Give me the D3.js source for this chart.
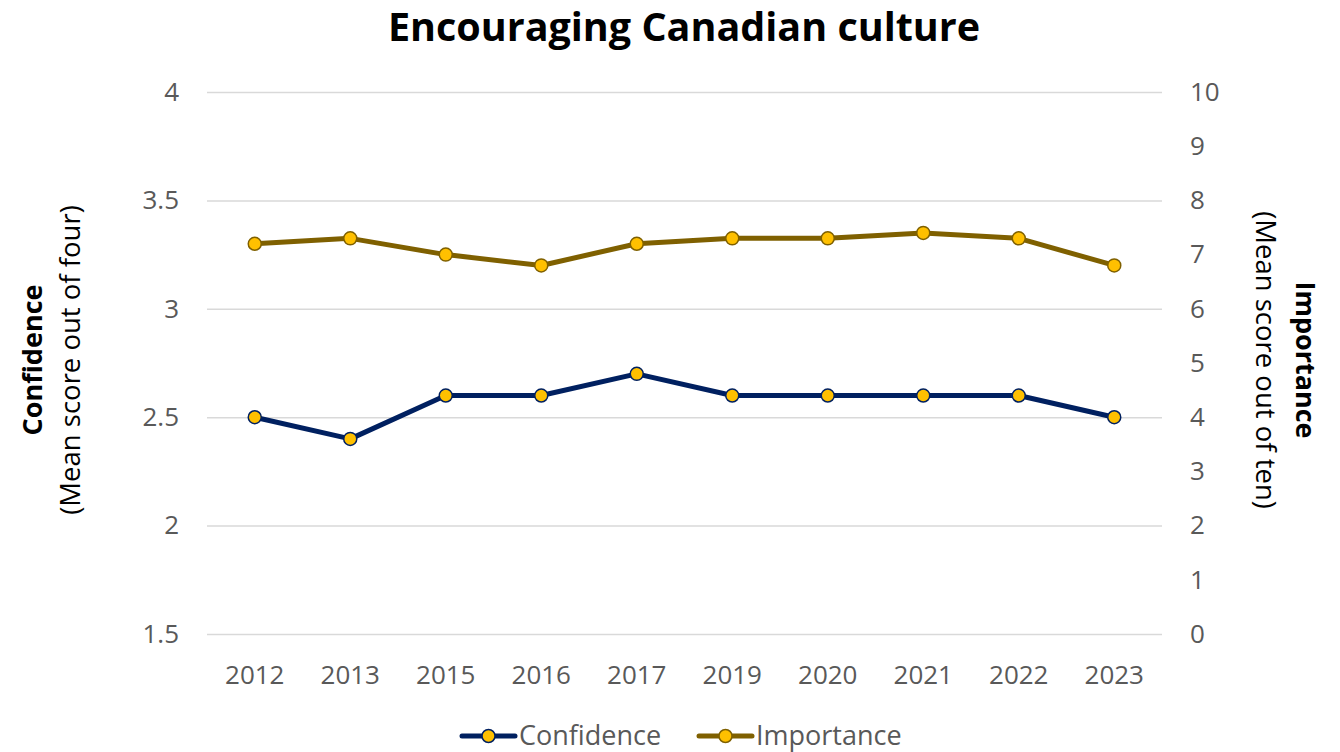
<!DOCTYPE html>
<html>
<head>
<meta charset="utf-8">
<script src="https://cdn.jsdelivr.net/npm/d3@7"></script>
<style>
  body { margin: 0; background: #fff; }
  text { font-family: "Open Sans", sans-serif; }
</style>
</head>
<body>
<div id="chart"></div>
<script>
var years = ["2012", "2013", "2015", "2016", "2017", "2019", "2020", "2021", "2022", "2023"];
var confidence = [2.5, 2.4, 2.6, 2.6, 2.7, 2.6, 2.6, 2.6, 2.6, 2.5];
var importance = [7.2, 7.3, 7.0, 6.8, 7.2, 7.3, 7.3, 7.4, 7.3, 6.8];
var leftTicks = [1.5, 2, 2.5, 3, 3.5, 4];
var rightTicks = [0, 1, 2, 3, 4, 5, 6, 7, 8, 9, 10];

var width = 1340, height = 752;
var margin = {top: 92, right: 178, bottom: 118, left: 207};
var chartWidth = width - margin.left - margin.right;
var chartHeight = height - margin.top - margin.bottom;

var navy = "#002060", olive = "#7f6000", gold = "#ffc000";
var tickSize = "26px";

var svg = d3.select("#chart").append("svg")
    .attr("width", width)
    .attr("height", height);

svg.append("text")
    .attr("x", 684)
    .attr("y", 41)
    .attr("text-anchor", "middle")
    .style("font-size", "39.5px")
    .style("font-weight", "bold")
    .text("Encouraging Canadian culture");

var g = svg.append("g")
    .attr("transform", `translate(${margin.left}, ${margin.top})`);

var xScale = d3.scaleBand()
    .domain(years)
    .range([0, chartWidth]);

var yLeft = d3.scaleLinear()
    .domain([1.5, 4])
    .range([chartHeight, 0]);

var yRight = d3.scaleLinear()
    .domain([0, 10])
    .range([chartHeight, 0]);

// gridlines
g.append("g")
    .call(d3.axisLeft(yLeft).tickValues(leftTicks).tickSize(-chartWidth).tickFormat(""))
    .call(a => a.select(".domain").remove())
    .selectAll("line")
    .attr("stroke", "#d9d9d9")
    .attr("stroke-width", 1.5);

var leftAxis = g.append("g")
    .call(d3.axisLeft(yLeft).tickValues(leftTicks).tickSize(0).tickPadding(28).tickFormat(d3.format("")));
leftAxis.select(".domain").remove();
leftAxis.selectAll("text")
    .attr("fill", "#595959")
    .style("font-size", tickSize);

var rightAxis = g.append("g")
    .attr("transform", `translate(${chartWidth}, 0)`)
    .call(d3.axisRight(yRight).tickValues(rightTicks).tickSize(0).tickPadding(28));
rightAxis.select(".domain").remove();
rightAxis.selectAll("text")
    .attr("fill", "#595959")
    .style("font-size", tickSize);

var xAxis = g.append("g")
    .attr("transform", `translate(0, ${chartHeight})`)
    .call(d3.axisBottom(xScale).tickSize(0).tickPadding(32));
xAxis.select(".domain").remove();
xAxis.selectAll("text")
    .attr("fill", "#595959")
    .style("font-size", tickSize);

// axis titles
var lt = svg.append("text")
    .attr("transform", "translate(0, 360) rotate(-90)")
    .attr("text-anchor", "middle");
lt.append("tspan").attr("x", 0).attr("y", 42)
    .style("font-weight", "bold").style("font-size", "27px").text("Confidence");
lt.append("tspan").attr("x", 0).attr("y", 80)
    .style("font-size", "27.5px").text("(Mean score out of four)");

var rt = svg.append("text")
    .attr("transform", "translate(1340, 360) rotate(90)")
    .attr("text-anchor", "middle");
rt.append("tspan").attr("x", 0).attr("y", 44)
    .style("font-weight", "bold").style("font-size", "27px").text("Importance");
rt.append("tspan").attr("x", 0).attr("y", 84)
    .style("font-size", "27.5px").text("(Mean score out of ten)");

var xc = d => xScale(d) + xScale.bandwidth() / 2;

var series = [
  {name: "Confidence", values: confidence, scale: yLeft, color: navy},
  {name: "Importance", values: importance, scale: yRight, color: olive}
];

series.forEach(function(s) {
  var line = d3.line()
      .x((d, i) => xc(years[i]))
      .y(d => s.scale(d));
  g.append("path")
      .datum(s.values)
      .attr("fill", "none")
      .attr("stroke", s.color)
      .attr("stroke-width", 5)
      .attr("stroke-linejoin", "round")
      .attr("d", line);
  g.selectAll(".pt-" + s.name)
      .data(s.values)
      .enter()
      .append("circle")
      .attr("cx", (d, i) => xc(years[i]))
      .attr("cy", d => s.scale(d))
      .attr("r", 6.5)
      .attr("fill", gold)
      .attr("stroke", s.color)
      .attr("stroke-width", 1.5);
});

// legend
var legendX = [462, 699];
series.forEach(function(s, i) {
  var lg = svg.append("g").attr("transform", `translate(${legendX[i]}, 736)`);
  lg.append("line")
      .attr("x1", 0).attr("x2", 53)
      .attr("stroke", s.color).attr("stroke-width", 5)
      .attr("stroke-linecap", "round");
  lg.append("circle")
      .attr("cx", 26.5).attr("r", 6.5)
      .attr("fill", gold).attr("stroke", s.color).attr("stroke-width", 1.5);
  lg.append("text")
      .attr("x", 57).attr("y", 9)
      .attr("fill", "#595959")
      .style("font-size", "27px")
      .text(s.name);
});
</script>
</body>
</html>
